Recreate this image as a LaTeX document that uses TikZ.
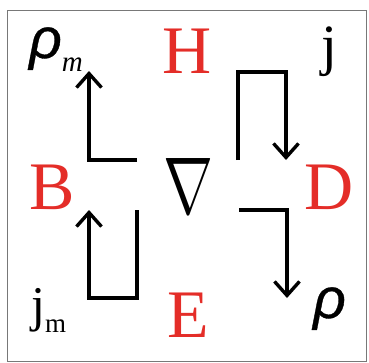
\documentclass[tikz,border=0pt]{standalone}
\usepackage{fontspec}
\setmainfont{Liberation Serif}
\newfontfamily\rhofont[ItalicFeatures={FakeBold=0.6}]{Liberation Sans}
\usetikzlibrary{arrows.meta}
\definecolor{fieldred}{RGB}{228,45,40}
\definecolor{framegray}{RGB}{120,120,120}
\begin{document}
\begin{tikzpicture}[x=1pt,y=-1pt,
  field/.style={text=fieldred,font=\fontsize{68}{68}\selectfont,inner sep=0pt,anchor=base west},
  sym/.style={inner sep=0pt,anchor=base west},
  rhostyle/.style={sym,font=\rhofont\itshape\fontsize{57}{57}\selectfont},
  flow/.style={line width=3.4pt,-{Straight Barb[length=14pt,width=25pt]}},
]
\useasboundingbox (0,0) rectangle (369,362);
\draw[framegray,line width=1pt] (7,10) rectangle (366,361);
% field letters
\node[field] (H) at (162,73) {H};
\node[field] (B) at (29,209) {B};
\node[field] (D) at (304,209) {D};
\node[field] (E) at (167,337) {E};
% nabla
\node[inner sep=0pt,anchor=north west] (nabla) at (163,158) {\resizebox{50pt}{55pt}{$\nabla$}};
% sources
\node[rhostyle] (rhom) at (29,58) {ρ\raisebox{-13pt}{\rmfamily\itshape\fontsize{29}{29}\selectfont m}};
\node[sym,font=\fontsize{57}{57}\selectfont] (j) at (321,64) {j};
\node[sym,font=\fontsize{50}{50}\selectfont] (jm) at (31,321) {j\raisebox{-11pt}{\fontsize{27}{27}\selectfont m}};
\node[rhostyle] (rho) at (313,318) {ρ};
% arrows
\coordinate (a1s) at (137,160);
\coordinate (a1c) at (89,160);
\coordinate (a1e) at (89,71);
\draw[flow] (a1s) -- (a1c) -- (a1e);
\coordinate (a2s) at (238,160);
\coordinate (a2c) at (238,72);
\coordinate (a2d) at (286,72);
\coordinate (a2e) at (286,160);
\draw[flow] (a2s) -- (a2c) -- (a2d) -- (a2e);
\coordinate (a3s) at (137,210);
\coordinate (a3c) at (137,298);
\coordinate (a3d) at (89,298);
\coordinate (a3e) at (89,210);
\draw[flow] (a3s) -- (a3c) -- (a3d) -- (a3e);
\coordinate (a4s) at (239,210);
\coordinate (a4c) at (287,210);
\coordinate (a4e) at (287,298);
\draw[flow] (a4s) -- (a4c) -- (a4e);
\end{tikzpicture}
\end{document}
